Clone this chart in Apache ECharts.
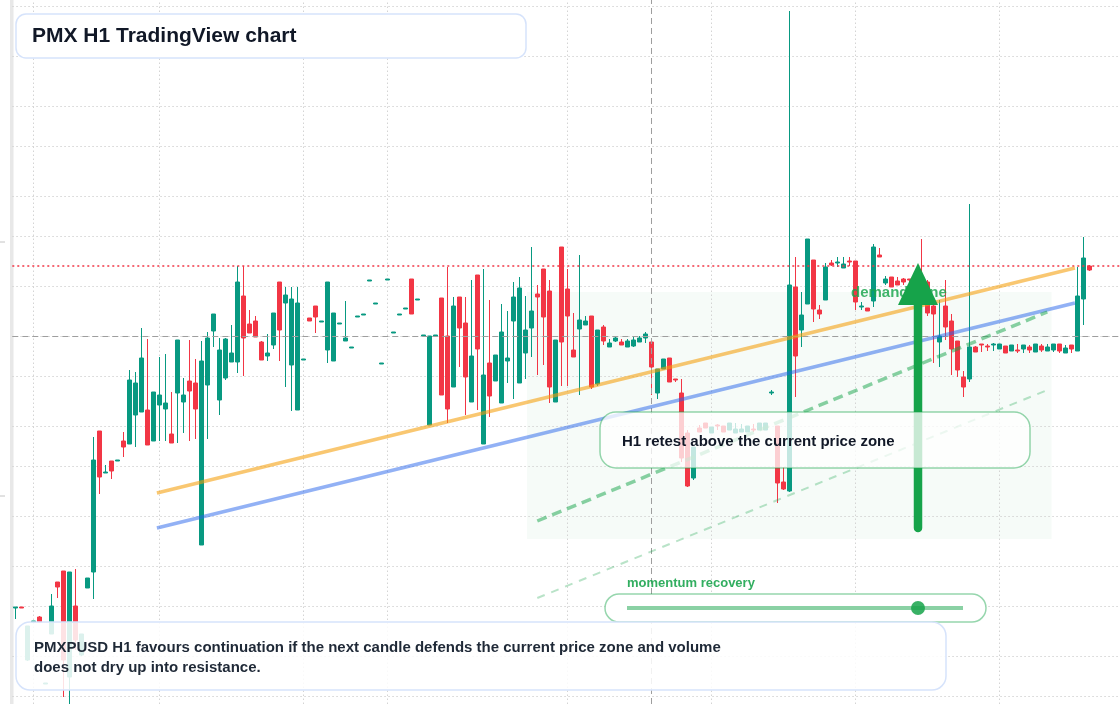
<!DOCTYPE html>
<html>
<head>
<meta charset="utf-8">
<title>PMX H1 TradingView chart</title>
<script src="https://cdn.jsdelivr.net/npm/echarts@6.0.0/dist/echarts.min.js"></script>
<style>
  html, body { margin: 0; padding: 0; background: #fff; }
  #pmx { width: 1120px; height: 704px; }
</style>
</head>
<body>
<div id="pmx"></div>
<script>
// PMXPUSD H1 candles, oldest first (open / close / low / high)
var opens = [
  0.138,0.139,0.086,0.124,0.129,0.062,0.112,0.164,0.175,0.069,
  0.140,0.091,0.158,0.174,0.315,0.273,0.285,0.285,0.305,0.302,
  0.331,0.334,0.336,0.305,0.341,0.337,0.312,0.353,0.344,0.365,
  0.363,0.201,0.361,0.415,0.346,0.368,0.384,0.384,0.450,0.422,
  0.425,0.404,0.390,0.401,0.464,0.443,0.381,0.336,0.386,0.428,
  0.440,0.424,0.396,0.385,0.422,0.405,0.398,0.429,0.431,0.465,
  0.442,0.382,0.466,0.413,0.431,0.437,0.467,0.446,0.410,0.321,
  0.410,0.448,0.410,0.359,0.449,0.423,0.344,0.471,0.302,0.383,
  0.365,0.343,0.385,0.425,0.363,0.393,0.418,0.452,0.477,0.455,
  0.344,0.499,0.457,0.396,0.417,0.421,0.430,0.362,0.419,0.399,
  0.405,0.404,0.399,0.400,0.404,0.408,0.404,0.353,0.377,0.388,
  0.367,0.353,0.313,0.268,0.318,0.323,0.313,0.321,0.320,0.316,
  0.313,0.314,0.314,0.317,0.316,0.316,0.353,0.320,0.264,0.255,
  0.459,0.416,0.442,0.486,0.436,0.446,0.483,0.483,0.478,0.485,
  0.485,0.439,0.438,0.445,0.491,0.463,0.469,0.465,0.467,0.467,
  0.466,0.461,0.464,0.440,0.404,0.440,0.425,0.405,0.369,0.367,
  0.399,0.402,0.400,0.401,0.397,0.400,0.395,0.396,0.397,0.399,
  0.394,0.400,0.395,0.396,0.402,0.393,0.401,0.395,0.447,0.480
];
var closes = [
  0.139,0.138,0.120,0.125,0.124,0.063,0.140,0.159,0.086,0.174,
  0.106,0.112,0.168,0.286,0.269,0.274,0.275,0.286,0.299,0.366,
  0.363,0.388,0.301,0.354,0.351,0.343,0.303,0.406,0.351,0.355,
  0.337,0.385,0.408,0.432,0.396,0.407,0.393,0.464,0.408,0.413,
  0.409,0.386,0.393,0.433,0.416,0.451,0.447,0.443,0.387,0.425,
  0.429,0.425,0.464,0.433,0.423,0.408,0.399,0.430,0.432,0.466,
  0.443,0.383,0.467,0.414,0.432,0.438,0.432,0.447,0.411,0.410,
  0.411,0.351,0.337,0.440,0.418,0.369,0.390,0.397,0.371,0.350,
  0.391,0.414,0.388,0.449,0.458,0.416,0.435,0.449,0.429,0.359,
  0.406,0.404,0.430,0.389,0.426,0.425,0.359,0.416,0.405,0.403,
  0.408,0.401,0.405,0.406,0.408,0.412,0.379,0.377,0.387,0.364,
  0.366,0.288,0.260,0.299,0.314,0.318,0.319,0.320,0.314,0.323,
  0.317,0.317,0.320,0.316,0.323,0.323,0.354,0.263,0.257,0.461,
  0.390,0.431,0.507,0.437,0.432,0.479,0.481,0.484,0.482,0.484,
  0.444,0.440,0.435,0.499,0.489,0.467,0.459,0.461,0.464,0.466,
  0.458,0.446,0.433,0.432,0.410,0.419,0.397,0.376,0.359,0.399,
  0.394,0.401,0.399,0.402,0.402,0.393,0.401,0.395,0.401,0.396,
  0.402,0.396,0.399,0.402,0.395,0.398,0.397,0.450,0.488,0.476
];
var lows = [
  0.127,0.138,0.085,0.124,0.123,0.062,0.112,0.148,0.049,0.042,
  0.096,0.090,0.158,0.147,0.252,0.273,0.267,0.285,0.289,0.302,
  0.299,0.334,0.301,0.305,0.305,0.305,0.303,0.303,0.313,0.305,
  0.307,0.201,0.307,0.399,0.331,0.366,0.384,0.373,0.370,0.413,
  0.409,0.386,0.385,0.397,0.385,0.359,0.335,0.336,0.386,0.425,
  0.413,0.424,0.383,0.385,0.422,0.405,0.398,0.429,0.431,0.465,
  0.442,0.382,0.466,0.413,0.431,0.437,0.432,0.446,0.410,0.321,
  0.410,0.351,0.323,0.359,0.379,0.331,0.344,0.336,0.302,0.329,
  0.365,0.343,0.363,0.347,0.363,0.367,0.389,0.371,0.381,0.343,
  0.344,0.360,0.360,0.389,0.351,0.421,0.357,0.360,0.401,0.399,
  0.404,0.401,0.399,0.399,0.404,0.403,0.351,0.347,0.377,0.364,
  0.364,0.284,0.259,0.266,0.314,0.318,0.313,0.316,0.314,0.316,
  0.313,0.314,0.314,0.314,0.316,0.316,0.351,0.243,0.256,0.254,
  0.349,0.399,0.442,0.424,0.427,0.446,0.480,0.479,0.478,0.480,
  0.436,0.436,0.435,0.439,0.489,0.461,0.459,0.461,0.461,0.463,
  0.454,0.436,0.430,0.383,0.379,0.406,0.371,0.369,0.349,0.364,
  0.394,0.394,0.395,0.395,0.397,0.393,0.395,0.393,0.393,0.393,
  0.394,0.394,0.395,0.394,0.393,0.393,0.393,0.395,0.421,0.475
];
var highs = [
  0.139,0.139,0.120,0.125,0.130,0.063,0.152,0.164,0.175,0.174,
  0.177,0.112,0.168,0.309,0.315,0.281,0.285,0.286,0.314,0.376,
  0.374,0.418,0.407,0.354,0.389,0.392,0.354,0.406,0.368,0.406,
  0.387,0.405,0.414,0.432,0.408,0.408,0.421,0.480,0.480,0.436,
  0.430,0.405,0.412,0.433,0.464,0.459,0.459,0.459,0.387,0.428,
  0.440,0.425,0.464,0.433,0.423,0.445,0.399,0.430,0.432,0.466,
  0.443,0.383,0.467,0.414,0.432,0.438,0.467,0.447,0.411,0.410,
  0.411,0.448,0.479,0.449,0.449,0.449,0.466,0.471,0.477,0.446,
  0.391,0.442,0.435,0.464,0.469,0.450,0.499,0.461,0.477,0.466,
  0.406,0.499,0.477,0.433,0.491,0.430,0.430,0.416,0.421,0.407,
  0.409,0.407,0.407,0.409,0.410,0.414,0.404,0.377,0.387,0.388,
  0.367,0.367,0.316,0.299,0.321,0.323,0.319,0.322,0.320,0.323,
  0.323,0.322,0.320,0.322,0.323,0.323,0.356,0.320,0.279,0.735,
  0.489,0.454,0.507,0.486,0.441,0.483,0.486,0.489,0.489,0.489,
  0.485,0.444,0.438,0.502,0.498,0.470,0.469,0.469,0.468,0.467,
  0.468,0.507,0.466,0.446,0.446,0.466,0.432,0.405,0.375,0.542,
  0.400,0.402,0.402,0.403,0.402,0.400,0.401,0.402,0.401,0.401,
  0.402,0.402,0.402,0.402,0.402,0.401,0.401,0.479,0.509,0.481
];

// drawings, in [bar index, price]
var resistanceLine = [[23.6, 0.253], [176.6, 0.478]];
var supportLine = [[23.6, 0.218], [176.6, 0.443]];
var retestPath = [[87.0, 0.225], [172.0, 0.434]];
var retestLower = [[87.0, 0.148], [172.0, 0.356]];
var demandZone = [[85.3, 0.207], [172.7, 0.454]];
var upArrow = [[150.45, 0.218, 0.483]];
var lastPrice = 0.477;
var crosshair = [106, 0.408];
var sessionBars = [3, 24, 48, 62, 92, 116, 140, 164];
var priceStep = 0.046;
var emptyBarsRight = 5;

var FONT = '"Liberation Sans", Arial, Helvetica, sans-serif';
var UP = '#089981';
var DOWN = '#f23645';

var slots = [];
for (var i = 0; i < opens.length + emptyBarsRight; i++) slots.push(String(i));

// horizontal price grid levels (every priceStep)
var priceLevels = [];
for (var k = 1; k <= 16; k++) priceLevels.push(+(k * priceStep).toFixed(3));

var candles = opens.map(function (o, i) {
  return [o, closes[i], lows[i], highs[i]];
});

var myChart = echarts.init(document.getElementById('pmx'));

var gridDot = { color: '#d4d4d4', width: 1, type: [1.5, 2.5] };

function trend(data, color, width, dash) {
  return {
    type: 'line',
    xAxisIndex: 1,
    data: data,
    symbol: 'none',
    silent: true,
    z: 5,
    lineStyle: { color: color, width: width, type: dash || 'solid', cap: 'butt' }
  };
}

var option = {
  animation: false,
  grid: {
    left: 12.3,
    top: 0,
    width: slots.length * 6,
    height: 704,
    outerBoundsMode: 'none'
  },
  xAxis: [
    {
      type: 'category',
      data: slots,
      axisLine: { show: false },
      axisTick: { show: false },
      axisLabel: { show: false },
      splitLine: { show: false }
    },
    {
      type: 'value',
      min: -0.5,
      max: slots.length - 0.5,
      show: false,
      splitLine: { show: false }
    }
  ],
  yAxis: {
    type: 'value',
    min: 0.042,
    max: 0.746,
    axisLine: { show: false },
    axisTick: { show: false },
    axisLabel: { show: false },
    splitLine: { show: false }
  },
  series: [
    {
      // price / session grid + demand zone underneath the candles
      type: 'line',
      xAxisIndex: 1,
      data: [],
      silent: true,
      markLine: {
        silent: true,
        z: 1,
        symbol: ['none', 'none'],
        label: { show: false },
        lineStyle: gridDot,
        data: sessionBars.map(function (b) { return { xAxis: b }; })
          .concat(priceLevels.map(function (p) { return { yAxis: p }; }))
      },
      markArea: {
        silent: true,
        z: 1,
        itemStyle: { color: 'rgba(22,163,74,0.04)' },
        data: [[{ xAxis: demandZone[0][0], yAxis: demandZone[0][1] },
                { xAxis: demandZone[1][0], yAxis: demandZone[1][1] }]]
      }
    },
    {
      type: 'candlestick',
      data: candles,
      barWidth: 4,
      clip: false,
      z: 3,
      itemStyle: {
        color: UP,
        color0: DOWN,
        borderColor: UP,
        borderColor0: DOWN,
        borderWidth: 1
      },
      markLine: {
        silent: true,
        symbol: ['none', 'none'],
        label: { show: false },
        data: [
          { yAxis: lastPrice, lineStyle: { color: DOWN, width: 1.5, type: [2, 3] } },
          { yAxis: crosshair[1], lineStyle: { color: '#9e9e9e', width: 1, type: [6, 4] } },
          { xAxis: crosshair[0], lineStyle: { color: '#9e9e9e', width: 1, type: [6, 4] } }
        ]
      }
    },
    trend(resistanceLine, 'rgba(245,158,11,0.58)', 3.5),
    trend(supportLine, 'rgba(37,99,235,0.5)', 3.5),
    trend(retestPath, 'rgba(22,163,74,0.5)', 3.5, [10, 6]),
    trend(retestLower, 'rgba(22,163,74,0.3)', 2, [8, 7]),
    {
      type: 'custom',
      xAxisIndex: 1,
      data: upArrow,
      encode: { x: 0, y: [1, 2] },
      silent: true,
      z: 8,
      renderItem: function (params, api) {
        var base = api.coord([api.value(0), api.value(1)]);
        var tip = api.coord([api.value(0), api.value(2)]);
        var headLen = 42, headHalf = 20;
        return {
          type: 'group',
          children: [
            {
              type: 'line',
              shape: { x1: base[0], y1: base[1], x2: tip[0], y2: tip[1] + headLen - 2 },
              style: { stroke: '#16a34a', lineWidth: 8.5, lineCap: 'round' }
            },
            {
              type: 'polygon',
              shape: { points: [[tip[0], tip[1]], [tip[0] - headHalf, tip[1] + headLen], [tip[0] + headHalf, tip[1] + headLen]] },
              style: { fill: '#16a34a' }
            }
          ]
        };
      }
    }
  ],
  graphic: [
    // left price-scale edge
    { type: 'rect', shape: { x: 10, y: 0, width: 3.5, height: 704 }, style: { fill: '#e8e8e8' }, z: 0, silent: true },
    { type: 'line', shape: { x1: 0, y1: 242, x2: 5, y2: 242 }, style: { stroke: '#c4c4c4', lineWidth: 1 }, silent: true },
    { type: 'line', shape: { x1: 0, y1: 496, x2: 5, y2: 496 }, style: { stroke: '#c4c4c4', lineWidth: 1 }, silent: true },

    // demand zone label (under the arrow)
    { type: 'text', x: 851, y: 293, z: 6, silent: true,
      style: { text: 'demand zone', font: 'bold 15px ' + FONT, fill: 'rgba(22,163,74,0.82)', verticalAlign: 'middle' } },

    // retest callout
    { type: 'rect', shape: { x: 600, y: 412, width: 430, height: 56, r: 16 }, z: 20, silent: true,
      style: { fill: 'rgba(255,255,255,0.76)', stroke: 'rgba(22,163,74,0.45)', lineWidth: 1.5 } },
    { type: 'text', x: 622, y: 442, z: 21, silent: true,
      style: { text: 'H1 retest above the current price zone', font: 'bold 15px ' + FONT, fill: '#111827', verticalAlign: 'middle' } },

    // momentum slider
    { type: 'text', x: 627, y: 583, z: 21, silent: true,
      style: { text: 'momentum recovery', font: 'bold 13px ' + FONT, fill: 'rgba(22,163,74,0.88)', verticalAlign: 'middle' } },
    { type: 'rect', shape: { x: 605, y: 594, width: 381, height: 28, r: 14 }, z: 20, silent: true,
      style: { fill: '#ffffff', stroke: 'rgba(22,163,74,0.45)', lineWidth: 1.5 } },
    { type: 'line', shape: { x1: 627, y1: 608, x2: 963, y2: 608 }, z: 21, silent: true,
      style: { stroke: 'rgba(22,163,74,0.5)', lineWidth: 4 } },
    { type: 'circle', shape: { cx: 918, cy: 608, r: 7 }, z: 22, silent: true,
      style: { fill: 'rgba(22,163,74,0.85)' } },

    // summary box
    { type: 'rect', shape: { x: 16, y: 622, width: 930, height: 68, r: 14 }, z: 20, silent: true,
      style: { fill: 'rgba(255,255,255,0.86)', stroke: '#d6e3fb', lineWidth: 1.5 } },
    { type: 'text', x: 34, y: 648, z: 21, silent: true,
      style: { text: 'PMXPUSD H1 favours continuation if the next candle defends the current price zone and volume', font: 'bold 15px ' + FONT, fill: '#1f2937', verticalAlign: 'middle' } },
    { type: 'text', x: 34, y: 668, z: 21, silent: true,
      style: { text: 'does not dry up into resistance.', font: 'bold 15px ' + FONT, fill: '#1f2937', verticalAlign: 'middle' } },

    // title
    { type: 'rect', shape: { x: 16, y: 14, width: 510, height: 44, r: 10 }, z: 20, silent: true,
      style: { fill: '#ffffff', stroke: '#d6e3fb', lineWidth: 1.5 } },
    { type: 'text', x: 32, y: 36, z: 21, silent: true,
      style: { text: 'PMX H1 TradingView chart', font: 'bold 21px ' + FONT, fill: '#111827', verticalAlign: 'middle' } }
  ]
};

myChart.setOption(option);

window.onresize = function () {
  myChart.resize();
};
</script>
</body>
</html>
